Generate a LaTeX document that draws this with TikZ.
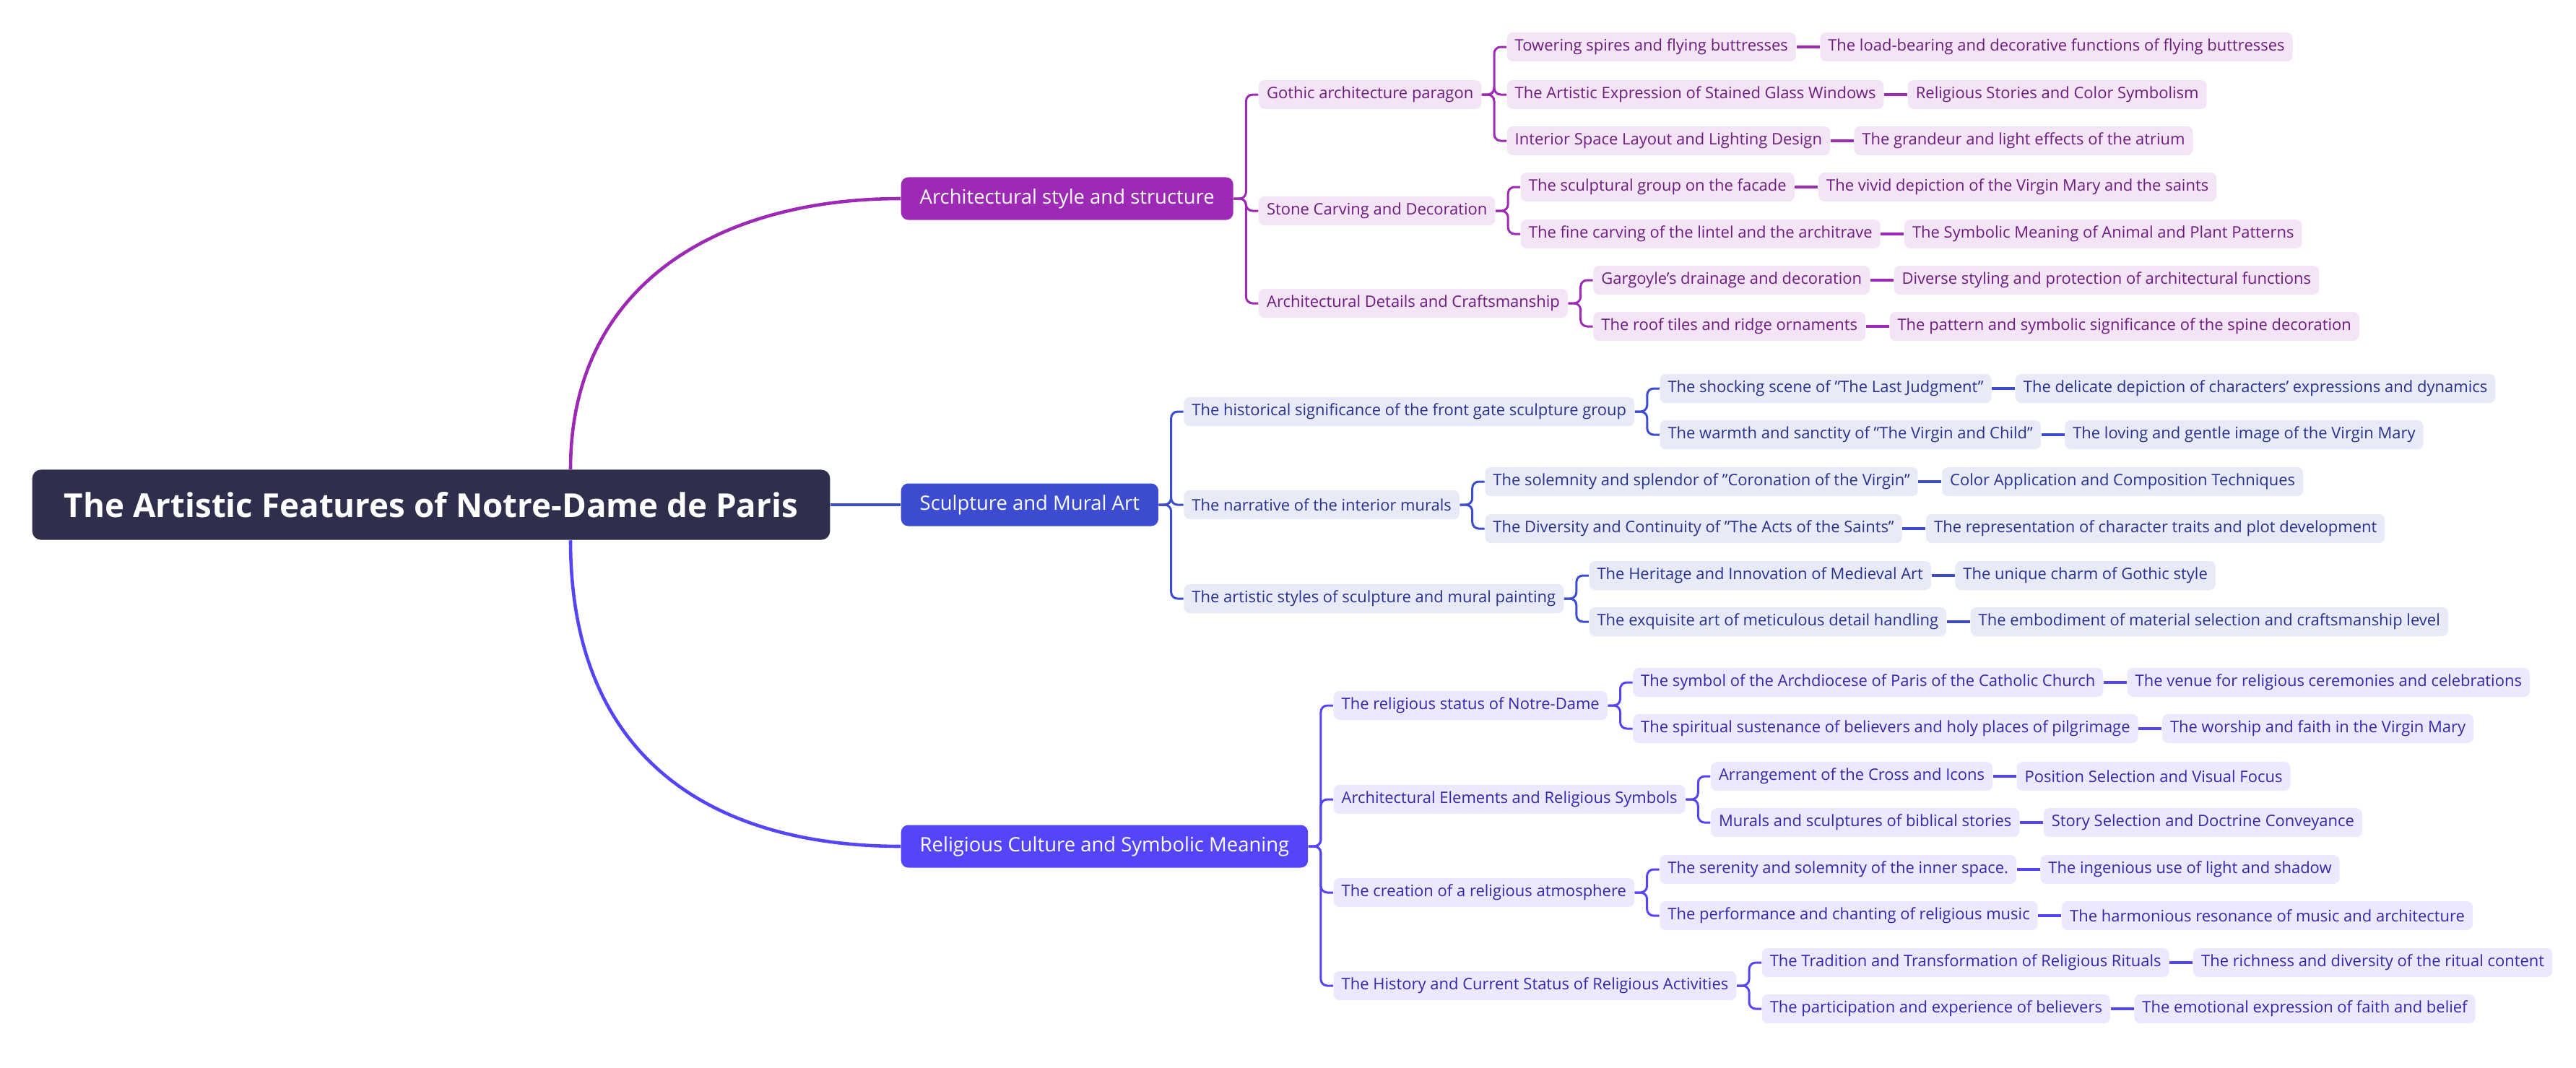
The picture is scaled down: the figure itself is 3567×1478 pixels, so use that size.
\documentclass[tikz,border=0pt]{standalone}
\usepackage{fontspec}
\setmainfont{Open Sans}
\usetikzlibrary{positioning}
\definecolor{rootfill}{RGB}{47,46,76}
\definecolor{archmain}{RGB}{157,42,180}
\definecolor{archfill}{RGB}{243,229,246}
\definecolor{archtext}{RGB}{110,28,128}
\definecolor{sculmain}{RGB}{60,76,208}
\definecolor{sculfill}{RGB}{232,234,248}
\definecolor{scultext}{RGB}{40,50,140}
\definecolor{relmain}{RGB}{84,69,250}
\definecolor{relfill}{RGB}{236,233,254}
\definecolor{reltext}{RGB}{52,40,170}

\begin{document}
\begin{tikzpicture}[x=0.01cm, y=-0.01cm,
    root/.style={rectangle, rounded corners=0.12cm, fill=rootfill, text=white,
                 font=\fontsize{13}{15}\selectfont\bfseries,
                 minimum width=11.04cm, minimum height=0.97cm},
    main/.style={rectangle, rounded corners=0.1cm, text=white, anchor=west,
                 font=\fontsize{7.8}{9}\selectfont,
                 minimum height=0.59cm, inner xsep=0.26cm, inner ysep=0pt},
    sub/.style={rectangle, rounded corners=0.08cm, anchor=west,
                font=\fontsize{6.25}{7.5}\selectfont,
                minimum height=0.40cm, inner xsep=0.11cm, inner ysep=0pt},
    subA/.style={sub, fill=archfill, text=archtext},
    subS/.style={sub, fill=sculfill, text=scultext},
    subR/.style={sub, fill=relfill, text=reltext},
    bus/.style={line width=0.85pt, rounded corners=0.09cm},
    leaf/.style={line width=1.2pt},
    curve/.style={line width=1.3pt}
  ]
    \useasboundingbox (0,0) rectangle (3567,1478);

    \node[root] (rt) at (597,699) {The Artistic Features of Notre-Dame de Paris};
    \node[main, fill=archmain] (a) at (1247,275)  {Architectural style and structure};
    \node[main, fill=sculmain] (s) at (1247,699)  {Sculpture and Mural Art};
    \node[main, fill=relmain]  (r) at (1247,1172) {Religious Culture and Symbolic Meaning};

    \draw[curve, archmain] (rt.north -| 790,0) .. controls (790,390) and (1000,275) .. (a.west);
    \draw[curve, sculmain] (rt.east) -- (s.west);
    \draw[curve, relmain]  (rt.south -| 790,0) .. controls (790,1070) and (1010,1172) .. (r.west);

    % architecture
    \node[subA] (a1) at ([xshift=0.34cm]a.east |- 0,131) {Gothic architecture paragon};
    \node[subA] (a2) at ([xshift=0.34cm]a.east |- 0,292) {Stone Carving and Decoration};
    \node[subA] (a3) at ([xshift=0.34cm]a.east |- 0,420) {Architectural Details and Craftsmanship};
    \node[subA] (a1a) at ([xshift=0.34cm]a1.east |- 0,65)  {Towering spires and flying buttresses};
    \node[subA] (a1b) at ([xshift=0.34cm]a1.east |- 0,131) {The Artistic Expression of Stained Glass Windows};
    \node[subA] (a1c) at ([xshift=0.34cm]a1.east |- 0,195) {Interior Space Layout and Lighting Design};
    \node[subA] (a2a) at ([xshift=0.34cm]a2.east |- 0,259) {The sculptural group on the facade};
    \node[subA] (a2b) at ([xshift=0.34cm]a2.east |- 0,324) {The fine carving of the lintel and the architrave};
    \node[subA] (a3a) at ([xshift=0.34cm]a3.east |- 0,388) {Gargoyle's drainage and decoration};
    \node[subA] (a3b) at ([xshift=0.34cm]a3.east |- 0,452) {The roof tiles and ridge ornaments};
    \node[subA, right=0.32cm of a1a] (a1a-x) {The load-bearing and decorative functions of flying buttresses};
    \node[subA, right=0.32cm of a1b] (a1b-x) {Religious Stories and Color Symbolism};
    \node[subA, right=0.32cm of a1c] (a1c-x) {The grandeur and light effects of the atrium};
    \node[subA, right=0.32cm of a2a] (a2a-x) {The vivid depiction of the Virgin Mary and the saints};
    \node[subA, right=0.32cm of a2b] (a2b-x) {The Symbolic Meaning of Animal and Plant Patterns};
    \node[subA, right=0.32cm of a3a] (a3a-x) {Diverse styling and protection of architectural functions};
    \node[subA, right=0.32cm of a3b] (a3b-x) {The pattern and symbolic significance of the spine decoration};

    % sculpture
    \node[subS] (s1) at ([xshift=0.34cm]s.east |- 0,570) {The historical significance of the front gate sculpture group};
    \node[subS] (s2) at ([xshift=0.34cm]s.east |- 0,699) {The narrative of the interior murals};
    \node[subS] (s3) at ([xshift=0.34cm]s.east |- 0,829) {The artistic styles of sculpture and mural painting};
    \node[subS] (s1a) at ([xshift=0.34cm]s1.east |- 0,538) {The shocking scene of "The Last Judgment"};
    \node[subS] (s1b) at ([xshift=0.34cm]s1.east |- 0,602) {The warmth and sanctity of "The Virgin and Child"};
    \node[subS] (s2a) at ([xshift=0.34cm]s2.east |- 0,667) {The solemnity and splendor of "Coronation of the Virgin"};
    \node[subS] (s2b) at ([xshift=0.34cm]s2.east |- 0,732) {The Diversity and Continuity of "The Acts of the Saints"};
    \node[subS] (s3a) at ([xshift=0.34cm]s3.east |- 0,797) {The Heritage and Innovation of Medieval Art};
    \node[subS] (s3b) at ([xshift=0.34cm]s3.east |- 0,861) {The exquisite art of meticulous detail handling};
    \node[subS, right=0.32cm of s1a] (s1a-x) {The delicate depiction of characters' expressions and dynamics};
    \node[subS, right=0.32cm of s1b] (s1b-x) {The loving and gentle image of the Virgin Mary};
    \node[subS, right=0.32cm of s2a] (s2a-x) {Color Application and Composition Techniques};
    \node[subS, right=0.32cm of s2b] (s2b-x) {The representation of character traits and plot development};
    \node[subS, right=0.32cm of s3a] (s3a-x) {The unique charm of Gothic style};
    \node[subS, right=0.32cm of s3b] (s3b-x) {The embodiment of material selection and craftsmanship level};

    % religion
    \node[subR] (r1) at ([xshift=0.34cm]r.east |- 0,977)  {The religious status of Notre-Dame};
    \node[subR] (r2) at ([xshift=0.34cm]r.east |- 0,1107) {Architectural Elements and Religious Symbols};
    \node[subR] (r3) at ([xshift=0.34cm]r.east |- 0,1236) {The creation of a religious atmosphere};
    \node[subR] (r4) at ([xshift=0.34cm]r.east |- 0,1365) {The History and Current Status of Religious Activities};
    \node[subR] (r1a) at ([xshift=0.34cm]r1.east |- 0,945)  {The symbol of the Archdiocese of Paris of the Catholic Church};
    \node[subR] (r1b) at ([xshift=0.34cm]r1.east |- 0,1009) {The spiritual sustenance of believers and holy places of pilgrimage};
    \node[subR] (r2a) at ([xshift=0.34cm]r2.east |- 0,1075) {Arrangement of the Cross and Icons};
    \node[subR] (r2b) at ([xshift=0.34cm]r2.east |- 0,1139) {Murals and sculptures of biblical stories};
    \node[subR] (r3a) at ([xshift=0.34cm]r3.east |- 0,1204) {The serenity and solemnity of the inner space.};
    \node[subR] (r3b) at ([xshift=0.34cm]r3.east |- 0,1268) {The performance and chanting of religious music};
    \node[subR] (r4a) at ([xshift=0.34cm]r4.east |- 0,1333) {The Tradition and Transformation of Religious Rituals};
    \node[subR] (r4b) at ([xshift=0.34cm]r4.east |- 0,1397) {The participation and experience of believers};
    \node[subR, right=0.32cm of r1a] (r1a-x) {The venue for religious ceremonies and celebrations};
    \node[subR, right=0.32cm of r1b] (r1b-x) {The worship and faith in the Virgin Mary};
    \node[subR, right=0.32cm of r2a] (r2a-x) {Position Selection and Visual Focus};
    \node[subR, right=0.32cm of r2b] (r2b-x) {Story Selection and Doctrine Conveyance};
    \node[subR, right=0.32cm of r3a] (r3a-x) {The ingenious use of light and shadow};
    \node[subR, right=0.32cm of r3b] (r3b-x) {The harmonious resonance of music and architecture};
    \node[subR, right=0.32cm of r4a] (r4a-x) {The richness and diversity of the ritual content};
    \node[subR, right=0.32cm of r4b] (r4b-x) {The emotional expression of faith and belief};

    \foreach \p/\c in {a/a1, a/a2, a/a3, a1/a1a, a1/a1b, a1/a1c, a2/a2a, a2/a2b, a3/a3a, a3/a3b}
      \draw[bus, archmain] (\p.east) -- ++(0.17cm,0) |- (\c.west);
    \foreach \p/\c in {s/s1, s/s2, s/s3, s1/s1a, s1/s1b, s2/s2a, s2/s2b, s3/s3a, s3/s3b}
      \draw[bus, sculmain] (\p.east) -- ++(0.17cm,0) |- (\c.west);
    \foreach \p/\c in {r/r1, r/r2, r/r3, r/r4, r1/r1a, r1/r1b, r2/r2a, r2/r2b, r3/r3a, r3/r3b, r4/r4a, r4/r4b}
      \draw[bus, relmain] (\p.east) -- ++(0.17cm,0) |- (\c.west);

    \foreach \c in {a1a, a1b, a1c, a2a, a2b, a3a, a3b}
      \draw[leaf, archmain] (\c.east) -- (\c-x.west);
    \foreach \c in {s1a, s1b, s2a, s2b, s3a, s3b}
      \draw[leaf, sculmain] (\c.east) -- (\c-x.west);
    \foreach \c in {r1a, r1b, r2a, r2b, r3a, r3b, r4a, r4b}
      \draw[leaf, relmain] (\c.east) -- (\c-x.west);
  \end{tikzpicture}
\end{document}
